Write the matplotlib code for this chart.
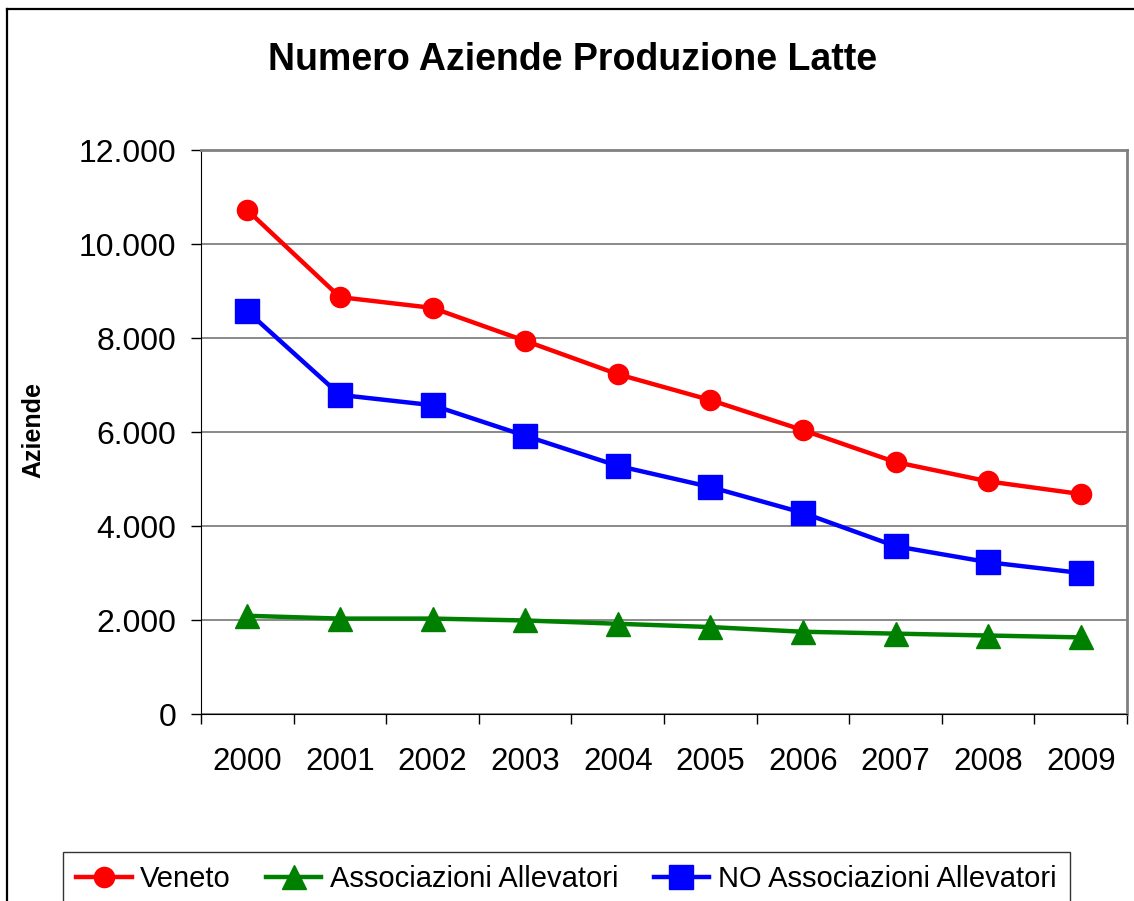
import numpy as np
import matplotlib
matplotlib.use('Agg')
import matplotlib.pyplot as plt
from matplotlib.lines import Line2D
from matplotlib.ticker import FuncFormatter, FixedLocator

plt.rcParams['font.family'] = ['Liberation Sans', 'DejaVu Sans']

# Dati
anni = ['2000', '2001', '2002', '2003', '2004', '2005', '2006', '2007', '2008', '2009']
veneto = [10720, 8870, 8640, 7940, 7230, 6680, 6040, 5360, 4950, 4680]
associazioni = [2090, 2030, 2030, 1990, 1920, 1850, 1750, 1710, 1670, 1630]
no_associazioni = [8570, 6790, 6570, 5920, 5280, 4830, 4280, 3570, 3230, 3000]

W, H = 1134, 901
fig = plt.figure(figsize=(W / 100, H / 100), dpi=100)
fig.patch.set_facecolor('white')

ax = fig.add_axes([201 / W, 1 - 714 / H, (1127 - 201) / W, (714 - 150) / H])

x = np.arange(len(anni))
ax.plot(x, veneto, color='#FF0000', lw=3.2, marker='o', markersize=14.5, label='Veneto', zorder=3)
ax.plot(x, associazioni, color='#008000', lw=3.2, marker='^', markersize=17,
        label='Associazioni Allevatori', zorder=3)
ax.plot(x, no_associazioni, color='#0000FF', lw=3.2, marker='s', markersize=17.5,
        label='NO Associazioni Allevatori', zorder=3)

ax.set_xlim(-0.5, len(anni) - 0.5)
ax.set_ylim(0, 12000)
ax.set_yticks(np.arange(0, 12001, 2000))
ax.yaxis.set_major_formatter(FuncFormatter(lambda v, p: f'{int(v):,}'.replace(',', '.')))
ax.yaxis.grid(True, color='#808080', lw=1.3)
ax.set_axisbelow(True)

# tacche tra le categorie, etichette al centro
ax.xaxis.set_major_locator(FixedLocator(np.arange(-0.5, len(anni), 1.0)))
ax.xaxis.set_major_formatter(FuncFormatter(lambda v, p: ''))
ax.xaxis.set_minor_locator(FixedLocator(x))
ax.set_xticklabels(anni, minor=True)
ax.tick_params(axis='x', which='major', length=7, width=1, color='black', direction='out')
ax.tick_params(axis='x', which='minor', length=0, pad=24, labelsize=22.5)
ax.tick_params(axis='y', length=7, width=1, color='black', pad=11, labelsize=23)

ax.spines['left'].set_color('black')
ax.spines['bottom'].set_color('black')
ax.spines['top'].set_color('#808080')
ax.spines['right'].set_color('#808080')
ax.spines['top'].set_linewidth(2)
ax.spines['right'].set_linewidth(2)

fig.text(573 / W, 1 - 60 / H, 'Numero Aziende Produzione Latte', ha='center', va='center',
         fontsize=27, fontweight='bold')
fig.text(33 / W, 1 - 430 / H, 'Aziende', ha='center', va='center', rotation=90,
         fontsize=18, fontweight='bold')

# cornice esterna del grafico
fig.add_artist(Line2D([7 / W, 1.05], [1 - 9 / H, 1 - 9 / H], transform=fig.transFigure,
                      color='black', lw=1.6))
fig.add_artist(Line2D([7 / W, 7 / W], [-0.05, 1 - 9 / H], transform=fig.transFigure,
                      color='black', lw=1.6))

leg = fig.legend(loc='upper left', bbox_to_anchor=(63 / W, 1 - 852 / H), ncol=3,
                 frameon=True, fancybox=False, fontsize=21, handlelength=1.9,
                 handletextpad=0.3, columnspacing=1.2, borderpad=0.45, borderaxespad=0,
                 markerscale=1.0)
leg.get_frame().set_edgecolor('black')
leg.get_frame().set_linewidth(1.0)

fig.savefig('out.png', dpi=100, facecolor='white')
